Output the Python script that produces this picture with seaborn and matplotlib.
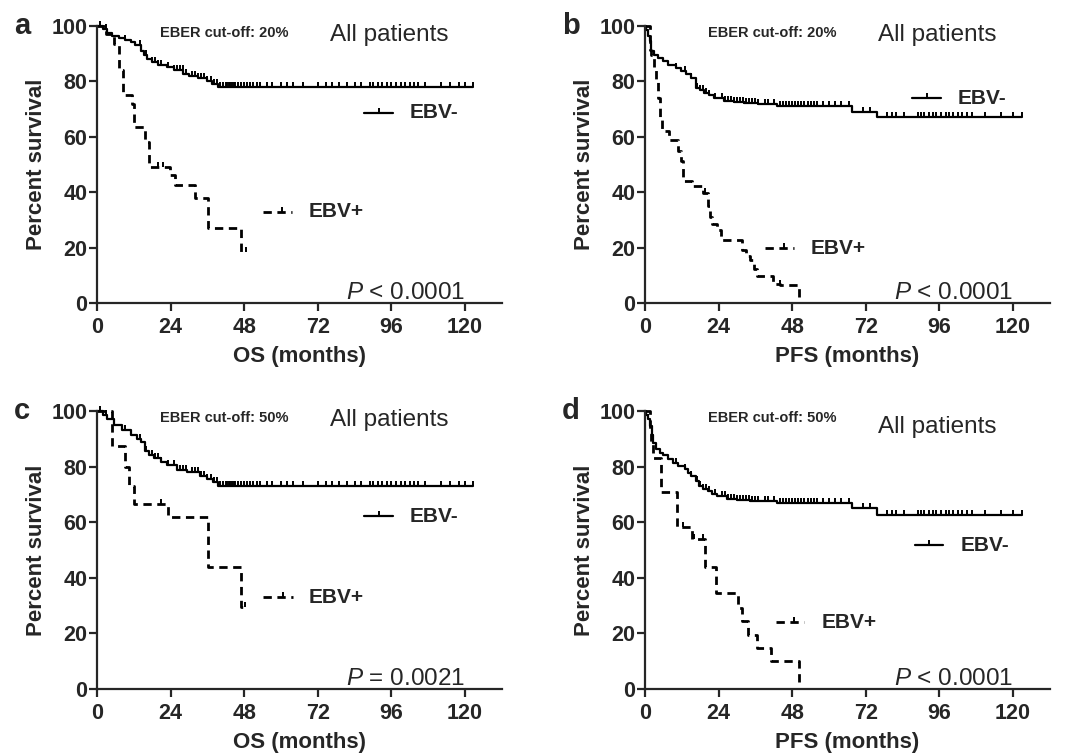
import numpy as np
import matplotlib
matplotlib.use("Agg")
import matplotlib.pyplot as plt
import seaborn as sns

# ---- data (months, percent survival, steps-post) ----
# a: OS, EBER cut-off 20%
os20_neg_t = [0, 2, 3.4, 5, 7, 9, 11, 12.5, 14.2, 15.2, 16.3, 18, 20, 22.8, 25, 28.1, 30, 33, 35.7, 37.5, 39.4, 122.6]
os20_neg_s = [100, 99, 97.5, 96.5, 95.5, 95, 94.1, 93, 91.1, 89.5, 88.1, 87, 86, 85.1, 84, 82.7, 82, 81.3, 80.3, 79, 77.9, 77.9]
os20_pos_t = [0, 3, 5.5, 7, 8.5, 11.5, 12, 15.8, 16.9, 23.8, 25.5, 31.9, 36.2, 46.9, 48.6]
os20_pos_s = [100, 97, 93.5, 84, 75, 72, 63.5, 58.2, 49.2, 46.2, 42.6, 37.8, 27, 18.6, 18.6]
os20_pos_cens = [20, 21.5, 48.6]

# b: PFS, EBER cut-off 20%
pfs20_neg_t = [0, 0.5, 1, 1.6, 2.1, 3, 4.3, 6, 7.5, 10, 11.8, 13.5, 15, 16.6, 18, 19.3, 21, 22.5, 25.7, 29, 32.2, 37, 42.9, 67.5, 75.5, 123]
pfs20_neg_s = [100, 98.7, 96.5, 94.5, 91, 89.5, 88.5, 87.3, 86.1, 85, 83.7, 82.5, 81.3, 77.7, 76.8, 75.9, 75, 74.1, 72.9, 72.5, 72.3, 71.8, 71.1, 69, 67, 67]
pfs20_pos_t = [0, 1.5, 2.1, 2.8, 3.5, 4.2, 4.8, 5.4, 8.0, 10.7, 11.8, 12.3, 15.5, 18.8, 20.4, 21.2, 22, 23.6, 24.7,
               31.6, 33, 34.3, 35.5, 36.4, 41.8, 43.9, 50.2]
pfs20_pos_s = [100, 91.5, 89.7, 85, 80, 74, 66, 62, 59, 55, 51.3, 44.2, 42.4, 39.6, 35, 31, 28.6, 26.2, 22.6,
               19, 17, 15.4, 12.4, 9.6, 7, 6.4, 0]
pfs20_pos_cens = [19.5, 44]

# c: OS, EBER cut-off 50%
os50_neg_t = [0, 2, 3.4, 5.6, 8, 11, 13, 14.2, 15.8, 17, 18.5, 21, 22.8, 26, 29.2, 33.5, 36, 37.8, 39.4, 122.6]
os50_neg_s = [100, 98.5, 97, 95, 93, 91.5, 90, 88.8, 85.5, 84, 83, 81.5, 80.4, 78.8, 78, 76.8, 75.5, 74.4, 73, 73]
os50_pos_t = [0, 5.0, 9.0, 10.5, 12.0, 23.3, 36.2, 46.8, 48.3]
os50_pos_s = [100, 87.5, 80, 73, 66.7, 61.8, 43.8, 29.5, 29.5]
os50_pos_cens = [21, 48.3]

# d: PFS, EBER cut-off 50%
pfs50_neg_t = [0, 0.5, 1, 1.6, 2.2, 2.7, 3.7, 4.8, 6, 7.5, 9, 10.7, 12.9, 14, 15, 16.5, 17.7, 19, 20.4, 22, 23.6,
               26.8, 30, 34.3, 42.9, 67.5, 75.5, 123]
pfs50_neg_s = [100, 98.5, 97, 94.6, 91.5, 88.6, 86.5, 85, 84, 82.6, 81.3, 80.2, 79, 77.8, 76.6, 74.8, 73, 72, 71.2, 70.3, 69.4,
               68.2, 67.9, 67.6, 67, 65, 62.7, 62.7]
pfs50_pos_t = [0, 1.6, 2.1, 2.7, 5.2, 10.5, 15.5, 19.6, 23.3, 30.3, 31.5, 33.5, 36.5, 41, 50.3]
pfs50_pos_s = [100, 92.2, 88.6, 83.2, 70.8, 58.3, 53.8, 44, 34.5, 29.2, 24.4, 19.5, 14.8, 10, 0]
pfs50_pos_cens = [12.5, 16, 19]

# censored EBV- patients (same cohort for OS panels and for PFS panels)
os_neg_cens = [1, 3, 9, 14, 16, 18, 19, 20, 21, 23, 25, 26, 27, 28, 29, 31, 32, 33, 34, 35, 36, 37, 38, 39, 40,
               41, 42, 42.5, 43, 43.5, 44, 44.5, 45, 46, 47, 48, 49, 50, 51, 52, 53, 55.5, 57, 60, 62, 64, 67,
               72, 74.5, 76.5, 79, 81.5, 84, 86, 89, 90, 91.5, 93, 94.5, 96, 97.5, 99, 100.5, 102, 103.5,
               104.5, 107, 112, 115, 118, 120, 122.6]
pfs_neg_cens = [1, 10, 13, 15, 17, 18, 19, 20, 21, 23, 25, 26, 27, 28, 29, 30, 31, 32, 33, 34, 35, 36, 37, 39,
                40, 42, 44, 45, 46, 47, 48, 49, 50, 51, 52, 53, 54, 55, 56, 58, 60, 62, 64, 66.5, 71, 73.5, 79,
                80.5, 82, 84.5, 89, 90, 91, 92.5, 94, 95, 96.5, 98, 99, 100.5, 102, 103.5, 105, 106.5, 111,
                116, 120, 123]

x_ticks = [0, 24, 48, 72, 96, 120]
y_ticks = [0, 20, 40, 60, 80, 100]
panel_letters = ['a', 'b', 'c', 'd']
cutoff_labels = ['EBER cut-off: 20%', 'EBER cut-off: 20%', 'EBER cut-off: 50%', 'EBER cut-off: 50%']
xlabels = ['OS (months)', 'PFS (months)', 'OS (months)', 'PFS (months)']
p_labels = [r'$P$ < 0.0001', r'$P$ < 0.0001', r'$P$ = 0.0021', r'$P$ < 0.0001']

sns.set_style("ticks")
plt.rcParams['font.family'] = ['Liberation Sans', 'DejaVu Sans']
plt.rcParams['mathtext.fontset'] = 'custom'
plt.rcParams['mathtext.it'] = 'Liberation Sans:italic'
plt.rcParams['mathtext.rm'] = 'Liberation Sans'

DASH = (0, (3, 2))


def step_at(t, s, times):
    idx = np.searchsorted(np.asarray(t), np.asarray(times), side='right') - 1
    return np.asarray(s)[idx]


def plot_km(ax, t, s, cens, dashed):
    lw = 2.0 if dashed else 1.6
    ls = DASH if dashed else '-'
    sns.lineplot(x=t, y=s, ax=ax, color='black', lw=lw, linestyle=ls, drawstyle='steps-post',
                 estimator=None, sort=False, clip_on=False)
    sns.scatterplot(x=cens, y=step_at(t, s, cens), ax=ax, marker=2, s=13, color='black',
                    linewidth=1.4, clip_on=False)


fig = plt.figure(figsize=(10.71, 7.54), dpi=100)
positions = [[0.0906, 0.5981, 0.378, 0.3674], [0.6022, 0.5981, 0.378, 0.3674],
             [0.0906, 0.0862, 0.378, 0.3687], [0.6022, 0.0862, 0.378, 0.3687]]
curves = [(os20_neg_t, os20_neg_s, os_neg_cens, os20_pos_t, os20_pos_s, os20_pos_cens),
          (pfs20_neg_t, pfs20_neg_s, pfs_neg_cens, pfs20_pos_t, pfs20_pos_s, pfs20_pos_cens),
          (os50_neg_t, os50_neg_s, os_neg_cens, os50_pos_t, os50_pos_s, os50_pos_cens),
          (pfs50_neg_t, pfs50_neg_s, pfs_neg_cens, pfs50_pos_t, pfs50_pos_s, pfs50_pos_cens)]
# legend placement per panel (line x0, x1, y, text x) for EBV- and EBV+
leg_neg = [(87, 96.6, 68.6, 101.8), (87.2, 96.6, 74, 101.8), (87, 96.6, 62.2, 101.8), (88, 97.3, 51.8, 102.8)]
leg_pos = [(54, 63.7, 32.9, 69), (39.3, 48.5, 19.8, 54), (54, 64, 33, 69), (42.6, 51.7, 24, 57.6)]
allpat_y = [96.8, 96.8, 96.8, 94.2]

for i in range(4):
    ax = fig.add_axes(positions[i])
    neg_t, neg_s, neg_c, pos_t, pos_s, pos_c = curves[i]
    plot_km(ax, neg_t, neg_s, neg_c, dashed=False)
    plot_km(ax, pos_t, pos_s, pos_c, dashed=True)

    ax.set_xlim(0, 132)
    ax.set_ylim(0, 100)
    ax.set_xticks(x_ticks)
    ax.set_xticklabels([str(v) for v in x_ticks], fontsize=15.5, fontweight='bold')
    ax.set_yticks(y_ticks)
    ax.set_yticklabels([str(v) for v in y_ticks], fontsize=15.5, fontweight='bold')
    sns.despine(ax=ax)
    for sp in ['left', 'bottom']:
        ax.spines[sp].set_linewidth(1.6)
    ax.tick_params(axis='x', length=6, width=1.6, pad=4)
    ax.tick_params(axis='y', length=6, width=1.6, pad=1)
    ax.set_xlabel(xlabels[i], fontsize=16, fontweight='bold', labelpad=6)
    ax.set_ylabel('Percent survival', fontsize=16, fontweight='bold', labelpad=3)

    # annotations
    ax.text(41.5, 97.5, cutoff_labels[i], fontsize=10.5, fontweight='bold', ha='center', va='center')
    ax.text(76, allpat_y[i], 'All patients', fontsize=17.5, ha='left', va='center')
    ax.text(120, 1.5, p_labels[i], fontsize=17.5, ha='right', va='baseline')
    ax.text(-0.205, 1.0, panel_letters[i], transform=ax.transAxes, fontsize=21, fontweight='bold',
            ha='left', va='center')

    x0, x1, y, tx = leg_neg[i]
    ax.plot([x0, x1], [y, y], color='black', lw=1.6)
    ax.plot([(x0 + x1) / 2], [y], color='black', marker=2, ms=3.8, mew=1.4)
    ax.text(tx, y, 'EBV-', fontsize=15, fontweight='bold', ha='left', va='center')
    x0, x1, y, tx = leg_pos[i]
    ax.plot([x0, x1], [y, y], color='black', lw=2.0, linestyle=DASH)
    ax.plot([(x0 + x1) / 2 + 1.5], [y], color='black', marker=2, ms=3.8, mew=1.4)
    ax.text(tx, y, 'EBV+', fontsize=15, fontweight='bold', ha='left', va='center')

fig.savefig('out.png', dpi=100)
